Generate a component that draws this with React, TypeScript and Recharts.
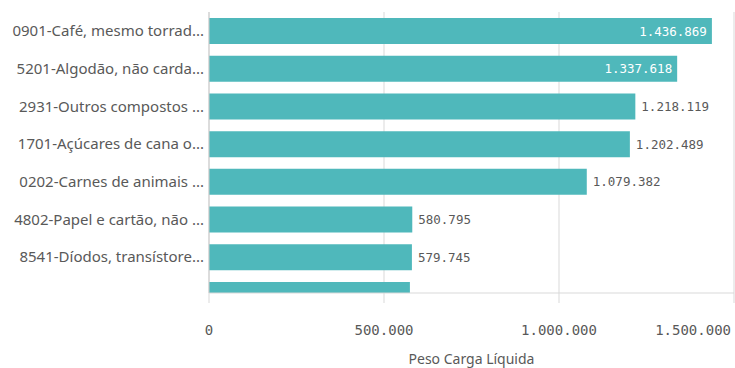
import React from "react";
import {
  BarChart,
  Bar,
  XAxis,
  YAxis,
  CartesianGrid,
  LabelList,
} from "recharts";

const categories = [
  "0901-Café, mesmo torrad...",
  "5201-Algodão, não carda...",
  "2931-Outros compostos ...",
  "1701-Açúcares de cana o...",
  "0202-Carnes de animais ...",
  "4802-Papel e cartão, não ...",
  "8541-Díodos, transístore...",
  "",
];
const pesoCarga = [1436869, 1337618, 1218119, 1202489, 1079382, 580795, 579745, 574000];
const xTicks = [0, 500000, 1000000, 1500000];
const visibleRows = [0, 1, 2, 3, 4, 5, 6];

const data = categories.map((name, i) => ({ idx: i, name, value: pesoCarga[i] }));

const W = 735;
const H = 368;
const M = { top: 12, right: 1, left: 0, bottom: 0 };
const PLOT_RIGHT = W - M.right;
const PLOT_BOTTOM = 293;

const BAR = "#4fb8bb";
const GRID = "#d9d9d9";
const TEXT = "#595959";
const MONO = "'DejaVu Sans Mono', monospace";
const SANS = "'Noto Sans', sans-serif";

const fmt = (v: number) => v.toLocaleString("de-DE");

const XTick = (props: any) => {
  const { x, y, payload } = props;
  const label = fmt(payload.value);
  const half = label.length * 4.2;
  const over = x + half > W - 3;
  return (
    <text
      x={over ? W - 4 : x}
      y={y}
      dy="0.71em"
      textAnchor={over ? "end" : "middle"}
      fill={TEXT}
      fontSize={14}
      fontFamily={MONO}
    >
      {label}
    </text>
  );
};

const ValueLabel = (props: any) => {
  const { x, y, width, height, value } = props;
  const cy = y + height / 2;
  if (cy > PLOT_BOTTOM) return null;
  const label = fmt(value);
  const textW = label.length * 7.5;
  const end = x + width;
  const inside = end + 6 + textW > PLOT_RIGHT;
  return (
    <text
      x={inside ? end - 5 : end + 6}
      y={cy}
      dy="0.36em"
      textAnchor={inside ? "end" : "start"}
      fill={inside ? "#ffffff" : TEXT}
      fontSize={12.5}
      fontFamily={MONO}
    >
      {label}
    </text>
  );
};

export default function App() {
  return (
    <div style={{ width: W, height: H, background: "#fff" }}>
      <style>{`body{margin:0}`}</style>
      <BarChart width={W} height={H} data={data} layout="vertical" margin={M}>
        <CartesianGrid horizontal={false} stroke={GRID} />
        <XAxis
          type="number"
          dataKey="value"
          domain={[0, 1500000]}
          ticks={xTicks}
          interval={0}
          height={75}
          tickSize={10}
          tickMargin={22}
          axisLine={{ stroke: GRID }}
          tickLine={{ stroke: GRID }}
          tick={<XTick />}
          label={{
            value: "Peso Carga Líquida",
            position: "insideBottom",
            offset: 4,
            fill: TEXT,
            fontSize: 14,
            fontFamily: SANS,
          }}
        />
        <YAxis
          type="number"
          dataKey="idx"
          domain={[-0.5, 6.95]}
          allowDataOverflow
          ticks={visibleRows}
          interval={0}
          width={209}
          tickSize={0}
          tickMargin={5}
          tickFormatter={(i: number) => categories[i]}
          axisLine={{ stroke: "#cccccc" }}
          tickLine={false}
          tick={{ fill: TEXT, fontSize: 15, fontFamily: SANS }}
        />
        <Bar dataKey="value" fill={BAR} barSize={26} isAnimationActive={false}>
          <LabelList dataKey="value" content={<ValueLabel />} />
        </Bar>
      </BarChart>
    </div>
  );
}
